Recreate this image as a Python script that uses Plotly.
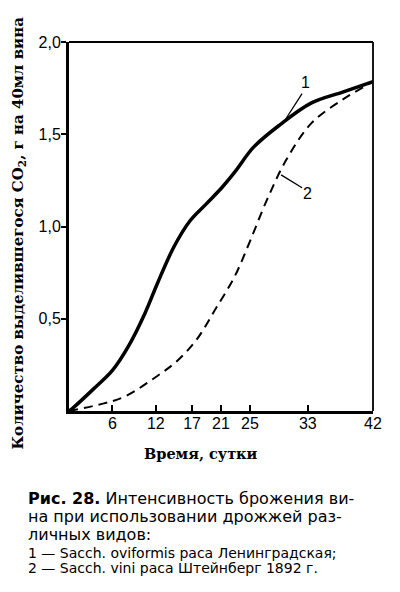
import plotly.graph_objects as go

# data
days_1 = [0, 0.5, 3.4, 6, 8.2, 10.5, 12.2, 14.5, 16.7, 18.9, 21.1, 23, 25.5, 29.1, 33.5, 37.9, 42]
co2_1 = [0, 0.015, 0.12, 0.22, 0.35, 0.53, 0.69, 0.89, 1.03, 1.12, 1.21, 1.30, 1.43, 1.55, 1.67, 1.73, 1.785]

days_2 = [0, 4.7, 7.8, 12.2, 14.9, 17.6, 20.2, 22.9, 25, 27.3, 30, 33.5, 37.9, 42]
co2_2 = [0, 0.04, 0.08, 0.19, 0.27, 0.385, 0.55, 0.73, 0.92, 1.14, 1.36, 1.56, 1.69, 1.785]

x_ticks = [6, 12, 17, 21, 25, 33, 42]
y_ticks = [0.5, 1.0, 1.5, 2.0]
y_labels = ["0,5", "1,0", "1,5", "2,0"]

caption = [
    "<b>Рис. 28.</b> Интенсивность брожения ви-",
    "на при использовании дрожжей раз-",
    "личных видов:",
]
legend_lines = [
    "1 — Sacch. oviformis раса Ленинградская;",
    "2 — Sacch. vini раса Штейнберг 1892 г.",
]

# page has an 8px body margin, so the figure is 16px smaller than the window
W, H = 384, 576
L, R, T, B = 61, 10, 34, 173
PW, PH = W - L - R, H - T - B


def px(x):  # window pixel -> paper x
    return (x - 8 - L) / PW


def py(y):  # window pixel -> paper y
    return (H - B - (y - 8)) / PH


fig = go.Figure()
fig.add_trace(go.Scatter(x=days_1, y=co2_1, mode="lines",
                         line=dict(color="black", width=3.5, shape="spline", smoothing=1)))
fig.add_trace(go.Scatter(x=days_2, y=co2_2, mode="lines",
                         line=dict(color="black", width=2, shape="spline", smoothing=1,
                                   dash="9px,6px")))

# curve labels with leader lines
fig.add_annotation(x=32.7, y=1.78, text="1", showarrow=False,
                   font=dict(family="Liberation Sans", size=16, color="black"))
fig.add_annotation(x=33.0, y=1.18, text="2", showarrow=False,
                   font=dict(family="Liberation Sans", size=16, color="black"))
fig.add_shape(type="line", x0=32.2, y0=1.72, x1=29.9, y1=1.58, line=dict(color="black", width=1.3))
fig.add_shape(type="line", x0=32.2, y0=1.21, x1=29.3, y1=1.28, line=dict(color="black", width=1.3))

# thinner top and right frame
fig.add_shape(type="line", xref="paper", yref="paper", x0=0, y0=1, x1=1, y1=1,
              line=dict(color="black", width=1.8))
fig.add_shape(type="line", xref="paper", yref="paper", x0=1, y0=0, x1=1, y1=1,
              line=dict(color="black", width=1.8))

# y axis title
fig.add_annotation(xref="paper", yref="paper", x=px(16), y=py(233),
                   xanchor="center", yanchor="middle",
                   text="<b>Количество выделившегося CO<sub>2</sub>, г на 40мл вина</b>",
                   textangle=-90, showarrow=False,
                   font=dict(family="DejaVu Serif", size=15, color="black"))
# x axis title
fig.add_annotation(xref="paper", yref="paper", x=px(205), y=py(453),
                   xanchor="center", yanchor="middle",
                   text="<b>Время, сутки</b>", showarrow=False,
                   font=dict(family="DejaVu Serif", size=14.5, color="black"))

# caption
for i, line in enumerate(caption):
    fig.add_annotation(xref="paper", yref="paper", x=px(25), y=py(498 + 18 * i),
                       xanchor="left", yanchor="middle", text=line, showarrow=False,
                       font=dict(family="DejaVu Sans", size=16, color="black"))
for i, line in enumerate(legend_lines):
    fig.add_annotation(xref="paper", yref="paper", x=px(25), y=py(553 + 15 * i),
                       xanchor="left", yanchor="middle", text=line, showarrow=False,
                       font=dict(family="DejaVu Sans", size=14, color="black"))

fig.update_layout(
    width=W, height=H,
    margin=dict(l=L, r=R, t=T, b=B),
    paper_bgcolor="white", plot_bgcolor="white",
    showlegend=False,
    xaxis=dict(range=[0, 42], tickvals=x_ticks, ticks="inside", ticklen=6, tickwidth=1.5,
               tickcolor="black", showline=True, linecolor="black", linewidth=3,
               showgrid=False, zeroline=False, ticklabeloverflow="allow",
               ticklabelstandoff=-4,
               tickfont=dict(family="Liberation Sans", size=16, color="black")),
    yaxis=dict(range=[0, 2.0], tickvals=y_ticks, ticktext=y_labels, ticks="outside",
               ticklen=5, tickwidth=1.5, tickcolor="black", showline=True,
               linecolor="black", linewidth=3, showgrid=False, zeroline=False,
               ticklabelstandoff=-3,
               tickfont=dict(family="Liberation Sans", size=16, color="black")),
)

fig.write_html("out.html")
